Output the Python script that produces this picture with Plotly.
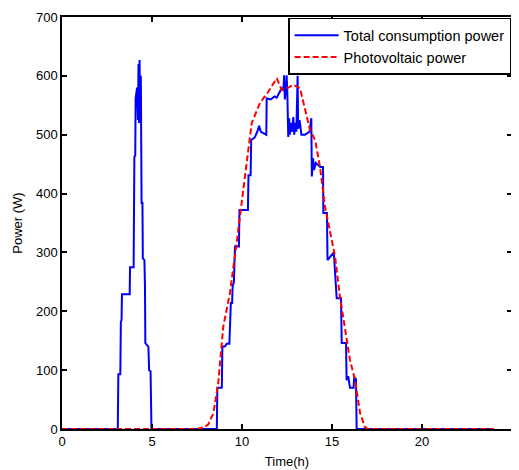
import plotly.graph_objects as go

# Total consumption power (blue)
t_load = [0, 3.10, 3.13, 3.24, 3.27, 3.31, 3.33, 3.76, 3.78, 3.98, 4.02, 4.07, 4.09, 4.13, 4.17,
          4.22, 4.25, 4.28, 4.31, 4.34, 4.38, 4.42, 4.47, 4.49, 4.58, 4.61, 4.63, 4.80, 4.84,
          4.92, 4.94, 4.97, 8.60, 8.63, 8.88, 8.91, 9.05, 9.15, 9.30, 9.33, 9.38, 9.45, 9.48,
          9.55, 9.61, 9.83, 9.86, 10.33, 10.36, 10.48, 10.51, 10.70, 10.85, 10.95, 11.05, 11.35,
          11.37, 11.6, 11.8, 11.93, 12.05, 12.2, 12.3, 12.34, 12.38, 12.45, 12.48, 12.52, 12.57,
          12.62, 12.66, 12.72, 12.78, 12.85, 12.9, 12.97, 13.02, 13.09, 13.12, 13.2, 13.3, 13.5,
          13.75, 13.85, 13.88, 13.95, 14.0, 14.1, 14.35, 14.5, 14.52, 14.72, 14.75, 15.1, 15.26,
          15.5, 15.54, 15.78, 15.81, 15.9, 16.0, 16.2, 16.23, 16.33, 16.37, 24]
p_load = [0, 0, 93, 93, 182, 185, 229, 229, 275, 275, 462, 465, 562, 570, 580,
          525, 620, 520, 627, 520, 600, 384, 384, 290, 287, 241, 146, 140, 100,
          98, 49, 0, 0, 70, 70, 140, 140, 145, 145, 197, 214, 214, 242,
          250, 310, 310, 372, 372, 431, 431, 491, 495, 505, 515, 505, 500,
          562, 560, 565, 563, 570, 579, 575, 601, 560, 580, 601, 570, 496,
          528, 500, 520, 505, 530, 500, 520, 505, 600, 510, 525, 500, 500,
          505, 528, 429, 460, 440, 452, 445, 445, 367, 367, 287, 300, 222,
          222, 146, 146, 83, 90, 70, 70, 88, 85, 0, 0]

# Photovoltaic power (red dashed)
t_pv = [0, 7.5, 7.9, 8.13, 8.41, 8.68, 8.96, 9.33, 9.7, 9.98, 10.26, 10.54, 11.0, 11.46, 11.93,
        12.2, 12.57, 12.85, 13.22, 13.5, 13.78, 14.06, 14.33, 14.61, 14.89, 15.17, 15.44, 15.72,
        16.0, 16.28, 16.56, 16.83, 17.0, 24]
p_pv = [0, 0, 3, 8, 27, 78, 174, 231, 316, 384, 446, 520, 554, 573, 596,
        576, 580, 585, 579, 542, 508, 491, 446, 378, 333, 293, 225, 168,
        117, 83, 27, 3, 0, 0]

x_ticks = [0, 5, 10, 15, 20, 25]
y_ticks = [0, 100, 200, 300, 400, 500, 600, 700]

fig = go.Figure()
fig.add_trace(go.Scatter(x=t_load, y=p_load, mode="lines", name="Total consumption power",
                         line=dict(color="#0000ff", width=2)))
fig.add_trace(go.Scatter(x=t_pv, y=p_pv, mode="lines", name="Photovoltaic power",
                         line=dict(color="#ff0000", width=2, dash="6px,3px")))

axis_common = dict(showline=True, linecolor="#000000", linewidth=1.5, mirror="ticks",
                   ticks="inside", ticklen=5, tickwidth=1.5, tickcolor="#000000", showgrid=False,
                   zeroline=False, automargin=False,
                   tickfont=dict(size=13, color="black"))

# page body has an 8px margin, so the figure is 8px smaller and margins are shifted
fig.update_layout(
    width=511, height=462,
    margin=dict(l=54, r=7, t=9, b=41, pad=0, autoexpand=False),
    paper_bgcolor="white", plot_bgcolor="white",
    font=dict(family="Liberation Sans, Arial, sans-serif", color="black"),
    xaxis=dict(range=[0, 25], tickvals=x_ticks,
               title=dict(text="Time(h)", font=dict(size=13), standoff=9), **axis_common),
    yaxis=dict(range=[0, 700], tickvals=y_ticks,
               title=dict(text="Power (W)", font=dict(size=13), standoff=10), **axis_common),
    legend=dict(x=0.998, y=0.998, xanchor="right", yanchor="top", bgcolor="white",
                bordercolor="#000000", borderwidth=1.5, font=dict(size=14.5),
                tracegroupgap=0, itemwidth=44),
    showlegend=True,
)

fig.write_html("out.html")
